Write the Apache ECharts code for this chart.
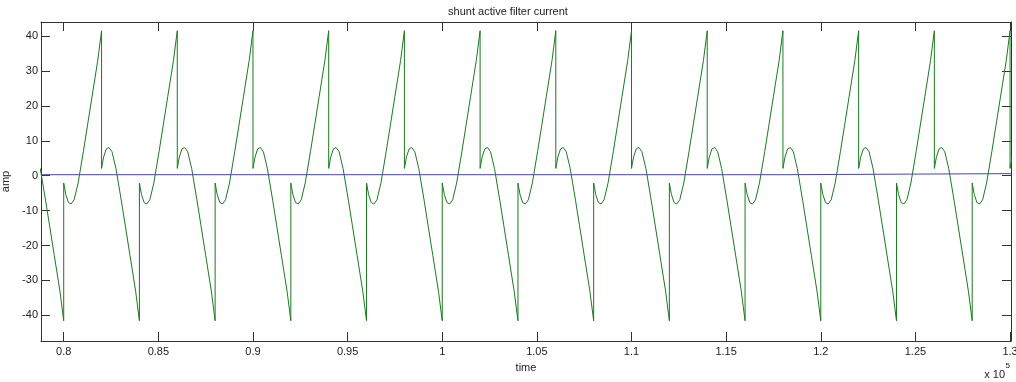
<!DOCTYPE html>
<html>
<head>
<meta charset="utf-8">
<script src="https://cdn.jsdelivr.net/npm/echarts@6/dist/echarts.min.js"></script>
<style>
  html, body { margin: 0; padding: 0; background: #fff; }
  #chart { width: 1016px; height: 382px; }
</style>
</head>
<body>
<div id="chart"></div>
<script>
// samples (time in raw units, axis shows x 10^5)
const time = [
  78760, 79040, 79250, 79500, 79800, 80000,
  80000, 80110, 80250, 80390, 80550, 80760, 81040, 81250, 81500, 81800, 82000,
  82000, 82110, 82250, 82390, 82550, 82760, 83040, 83250, 83500, 83800, 84000,
  84000, 84110, 84250, 84390, 84550, 84760, 85040, 85250, 85500, 85800, 86000,
  86000, 86110, 86250, 86390, 86550, 86760, 87040, 87250, 87500, 87800, 88000,
  88000, 88110, 88250, 88390, 88550, 88760, 89040, 89250, 89500, 89800, 90000,
  90000, 90110, 90250, 90390, 90550, 90760, 91040, 91250, 91500, 91800, 92000,
  92000, 92110, 92250, 92390, 92550, 92760, 93040, 93250, 93500, 93800, 94000,
  94000, 94110, 94250, 94390, 94550, 94760, 95040, 95250, 95500, 95800, 96000,
  96000, 96110, 96250, 96390, 96550, 96760, 97040, 97250, 97500, 97800, 98000,
  98000, 98110, 98250, 98390, 98550, 98760, 99040, 99250, 99500, 99800, 100000,
  100000, 100110, 100250, 100390, 100550, 100760, 101040, 101250, 101500, 101800, 102000,
  102000, 102110, 102250, 102390, 102550, 102760, 103040, 103250, 103500, 103800, 104000,
  104000, 104110, 104250, 104390, 104550, 104760, 105040, 105250, 105500, 105800, 106000,
  106000, 106110, 106250, 106390, 106550, 106760, 107040, 107250, 107500, 107800, 108000,
  108000, 108110, 108250, 108390, 108550, 108760, 109040, 109250, 109500, 109800, 110000,
  110000, 110110, 110250, 110390, 110550, 110760, 111040, 111250, 111500, 111800, 112000,
  112000, 112110, 112250, 112390, 112550, 112760, 113040, 113250, 113500, 113800, 114000,
  114000, 114110, 114250, 114390, 114550, 114760, 115040, 115250, 115500, 115800, 116000,
  116000, 116110, 116250, 116390, 116550, 116760, 117040, 117250, 117500, 117800, 118000,
  118000, 118110, 118250, 118390, 118550, 118760, 119040, 119250, 119500, 119800, 120000,
  120000, 120110, 120250, 120390, 120550, 120760, 121040, 121250, 121500, 121800, 122000,
  122000, 122110, 122250, 122390, 122550, 122760, 123040, 123250, 123500, 123800, 124000,
  124000, 124110, 124250, 124390, 124550, 124760, 125040, 125250, 125500, 125800, 126000,
  126000, 126110, 126250, 126390, 126550, 126760, 127040, 127250, 127500, 127800, 128000,
  128000, 128110, 128250, 128390, 128550, 128760, 129040, 129250, 129500, 129800, 130000,
  130000, 130110
];

const filterCurrent = [
  2.1, -7, -14.2, -22.8, -33.1, -41.6,
  -2.1, -5.4, -7.7, -8.1, -6.9, -2.1, 7, 14.2, 22.8, 33.1, 41.6,
  2.1, 5.4, 7.7, 8.1, 6.9, 2.1, -7, -14.2, -22.8, -33.1, -41.6,
  -2.1, -5.4, -7.7, -8.1, -6.9, -2.1, 7, 14.2, 22.8, 33.1, 41.6,
  2.1, 5.4, 7.7, 8.1, 6.9, 2.1, -7, -14.2, -22.8, -33.1, -41.6,
  -2.1, -5.4, -7.7, -8.1, -6.9, -2.1, 7, 14.2, 22.8, 33.1, 41.6,
  2.1, 5.4, 7.7, 8.1, 6.9, 2.1, -7, -14.2, -22.8, -33.1, -41.6,
  -2.1, -5.4, -7.7, -8.1, -6.9, -2.1, 7, 14.2, 22.8, 33.1, 41.6,
  2.1, 5.4, 7.7, 8.1, 6.9, 2.1, -7, -14.2, -22.8, -33.1, -41.6,
  -2.1, -5.4, -7.7, -8.1, -6.9, -2.1, 7, 14.2, 22.8, 33.1, 41.6,
  2.1, 5.4, 7.7, 8.1, 6.9, 2.1, -7, -14.2, -22.8, -33.1, -41.6,
  -2.1, -5.4, -7.7, -8.1, -6.9, -2.1, 7, 14.2, 22.8, 33.1, 41.6,
  2.1, 5.4, 7.7, 8.1, 6.9, 2.1, -7, -14.2, -22.8, -33.1, -41.6,
  -2.1, -5.4, -7.7, -8.1, -6.9, -2.1, 7, 14.2, 22.8, 33.1, 41.6,
  2.1, 5.4, 7.7, 8.1, 6.9, 2.1, -7, -14.2, -22.8, -33.1, -41.6,
  -2.1, -5.4, -7.7, -8.1, -6.9, -2.1, 7, 14.2, 22.8, 33.1, 41.6,
  2.1, 5.4, 7.7, 8.1, 6.9, 2.1, -7, -14.2, -22.8, -33.1, -41.6,
  -2.1, -5.4, -7.7, -8.1, -6.9, -2.1, 7, 14.2, 22.8, 33.1, 41.6,
  2.1, 5.4, 7.7, 8.1, 6.9, 2.1, -7, -14.2, -22.8, -33.1, -41.6,
  -2.1, -5.4, -7.7, -8.1, -6.9, -2.1, 7, 14.2, 22.8, 33.1, 41.6,
  2.1, 5.4, 7.7, 8.1, 6.9, 2.1, -7, -14.2, -22.8, -33.1, -41.6,
  -2.1, -5.4, -7.7, -8.1, -6.9, -2.1, 7, 14.2, 22.8, 33.1, 41.6,
  2.1, 5.4, 7.7, 8.1, 6.9, 2.1, -7, -14.2, -22.8, -33.1, -41.6,
  -2.1, -5.4, -7.7, -8.1, -6.9, -2.1, 7, 14.2, 22.8, 33.1, 41.6,
  2.1, 5.4, 7.7, 8.1, 6.9, 2.1, -7, -14.2, -22.8, -33.1, -41.6,
  -2.1, -5.4, -7.7, -8.1, -6.9, -2.1, 7, 14.2, 22.8, 33.1, 41.6,
  2.1, 5.4
];

// blue trace, sits just above zero
const refTime = [78800, 118200, 118200, 130050];
const refCurrent = [0.3, 0.3, 0.6, 0.6];

const xTicks = [80000, 85000, 90000, 95000, 100000, 105000, 110000, 115000, 120000, 125000, 130000];
const yTicks = [-40, -30, -20, -10, 0, 10, 20, 30, 40];

const chart = echarts.init(document.getElementById('chart'));

const font = 'Liberation Sans, Arial, sans-serif';
const ink = '#333';
const zip = (xs, ys) => xs.map((x, i) => [x, ys[i]]);

const xRange = { min: 78800, max: 130050 };
const yRange = { min: -47.4, max: 44.1 };

const boxLine = { show: true, onZero: false, lineStyle: { color: ink, width: 1 } };

chart.setOption({
  animation: false,
  backgroundColor: '#fff',
  title: {
    text: 'shunt active filter current',
    left: 'center',
    top: 1,
    textStyle: { fontFamily: font, fontSize: 11, fontWeight: 'normal', color: '#222' },
  },
  grid: {
    left: 41,
    right: 5,
    top: 22,
    bottom: 41,
    containLabel: false,
    outerBoundsMode: 'none',
  },
  xAxis: [
    {
      type: 'value',
      ...xRange,
      name: 'time',
      nameLocation: 'middle',
      nameGap: 21,
      nameTextStyle: { fontFamily: font, fontSize: 11, color: '#222' },
      axisLine: boxLine,
      axisTick: { inside: true, length: 9, customValues: xTicks, lineStyle: { color: ink } },
      axisLabel: {
        customValues: xTicks,
        margin: 5,
        fontFamily: font,
        fontSize: 11,
        color: '#222',
        formatter: (v) => String(+(v / 1e5).toFixed(2)),
      },
      splitLine: { show: false },
    },
    {
      type: 'value',
      position: 'top',
      ...xRange,
      axisLine: boxLine,
      axisTick: { inside: true, length: 9, customValues: xTicks, lineStyle: { color: ink } },
      axisLabel: { show: false },
      splitLine: { show: false },
    },
  ],
  yAxis: [
    {
      type: 'value',
      ...yRange,
      name: 'amp',
      nameLocation: 'middle',
      nameGap: 27,
      nameTextStyle: { fontFamily: font, fontSize: 11, color: '#222' },
      axisLine: boxLine,
      axisTick: { inside: true, length: 9, customValues: yTicks, lineStyle: { color: ink } },
      axisLabel: { customValues: yTicks, margin: 3, fontFamily: font, fontSize: 11, color: '#222' },
      splitLine: { show: false },
    },
    {
      type: 'value',
      position: 'right',
      ...yRange,
      axisLine: boxLine,
      axisTick: { inside: true, length: 9, customValues: yTicks, lineStyle: { color: ink } },
      axisLabel: { show: false },
      splitLine: { show: false },
    },
  ],
  series: [
    {
      name: 'filter current',
      type: 'line',
      data: zip(time, filterCurrent),
      symbol: 'none',
      lineStyle: { color: '#1a7a1f', width: 1 },
    },
    {
      name: 'reference',
      type: 'line',
      data: zip(refTime, refCurrent),
      symbol: 'none',
      lineStyle: { color: '#4646aa', width: 1 },
    },
  ],
  graphic: [
    {
      type: 'text',
      right: 11,
      top: 369,
      style: { text: 'x 10', fontFamily: font, fontSize: 11, fill: '#222' },
    },
    {
      type: 'text',
      right: 6,
      top: 362,
      style: { text: '5', fontFamily: font, fontSize: 8, fill: '#222' },
    },
  ],
});
</script>
</body>
</html>
